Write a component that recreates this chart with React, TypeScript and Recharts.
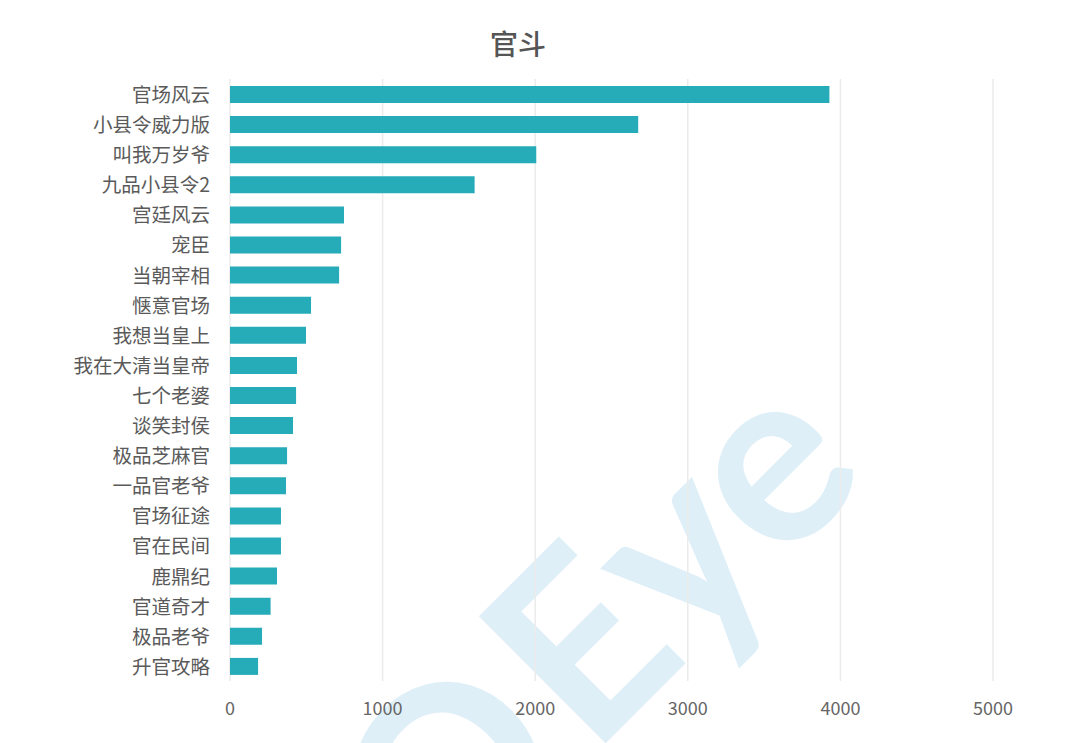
import React from "react";
import { BarChart, Bar, XAxis, YAxis, CartesianGrid } from "recharts";

const categories = ["官场风云","小县令威力版","叫我万岁爷","九品小县令2","宫廷风云","宠臣","当朝宰相","惬意官场","我想当皇上","我在大清当皇帝","七个老婆","谈笑封侯","极品芝麻官","一品官老爷","官场征途","官在民间","鹿鼎纪","官道奇才","极品老爷","升官攻略"];
const values = [3928,2675,2007,1603,747,728,715,531,498,439,433,413,374,367,334,334,308,266,210,184];
const xTicks = [0,1000,2000,3000,4000,5000];
const rows = categories.map((name, i) => ({ name, value: values[i] }));
const FONT = '"Noto Sans CJK SC", "Noto Sans", sans-serif';

export default function App() {
  return (
    <div style={{ position: "absolute", left: 0, top: 0, width: 1080, height: 743, overflow: "hidden", background: "#fff", fontFamily: FONT }}>
      <div style={{ position: "absolute", left: 541, top: 672, width: 0, height: 0, transform: "rotate(-45deg)" }}>
        <div style={{ position: "absolute", left: -239, top: -150, fontFamily: "Lato, sans-serif", fontWeight: 700, fontSize: 248, lineHeight: "300px", color: "#deeff8", whiteSpace: "nowrap" }}><span style={{ letterSpacing: 14 }}>Q</span>Eye</div>
      </div>
      <div style={{ position: "absolute", left: 0, width: 1036, top: 21, textAlign: "center", fontSize: 28, lineHeight: "44px", color: "#555", fontWeight: 500 }}>官斗</div>
      <div style={{ position: "absolute", left: 0, top: 0 }}>
        <BarChart width={1080} height={743} data={rows} layout="vertical" barSize={17} margin={{ top: 79, right: 87, bottom: 0, left: 0 }}>
          <CartesianGrid horizontal={false} vertical stroke="#ebebeb" strokeWidth={1.5} />
          <XAxis type="number" domain={[0, 5000]} ticks={xTicks} axisLine={false} tickLine={false} tick={{ fontSize: 18, fill: "#666", fontFamily: FONT }} tickMargin={15} height={62} interval={0} />
          <YAxis type="category" dataKey="name" width={230} axisLine={false} tickLine={false} interval={0} tick={{ fontSize: 19.5, fill: "#5a5a5a", fontFamily: FONT, dy: 1 }} tickMargin={14} />
          <Bar dataKey="value" fill="#26abb9" isAnimationActive={false} />
        </BarChart>
      </div>
    </div>
  );
}
